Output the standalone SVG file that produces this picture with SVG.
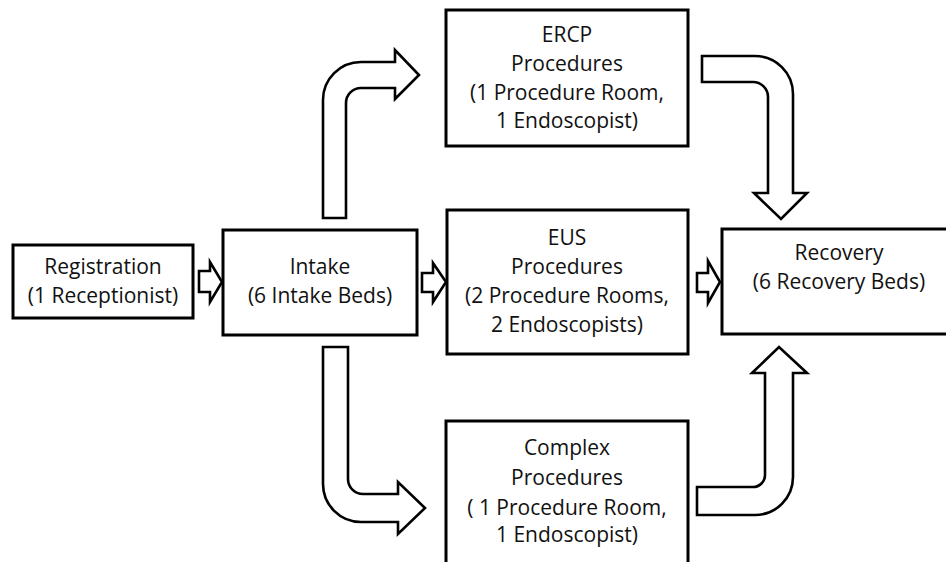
<svg xmlns="http://www.w3.org/2000/svg" width="946" height="562" viewBox="0 0 946 562">
<style>
.box{fill:#fff;stroke:#000;stroke-width:3}
.arr{fill:#fff;stroke:#000;stroke-width:2.6;stroke-linejoin:miter}
text{font-family:"Open Sans",Lato,"Liberation Sans",sans-serif;font-size:21px;fill:#111;text-anchor:middle}
</style>
<rect width="946" height="562" fill="#fff"/>
<g id="connectors">
<path class="arr" d="M323,218 L323,100 A38,38 0 0 1 361,62 L395,62 L395,50 L419,75 L395,99 L395,88 L361,88 A15,15 0 0 0 346,103 L346,218 Z"/>
<path class="arr" d="M323,347 L348,347 L348,479 A15,15 0 0 0 363,494 L398,494 L398,482 L425,508 L398,534 L398,522 L361,522 A38,38 0 0 1 323,484 Z"/>
<path class="arr" d="M702,56 L755,56 A38,38 0 0 1 793,94 L793,193 L807,193 L781,219 L754,193 L768,193 L768,97 A15,15 0 0 0 753,82 L702,82 Z"/>
<path class="arr" d="M697,487 L753,487 A12,12 0 0 0 765,475 L765,373 L752,373 L779,347 L807,373 L793,373 L793,477 A38,38 0 0 1 755,515 L697,515 Z"/>
<path class="arr" d="M199,271 L210,271 L210,262 L222,282 L210,302 L210,292 L199,292 Z"/>
<path class="arr" d="M422,273 L433,273 L433,263 L446,282 L433,302 L433,292 L422,292 Z"/>
<path class="arr" d="M697,273 L708,273 L708,261 L720,282 L708,303 L708,292 L697,292 Z"/>
</g>
<g id="registration">
<rect class="box" x="13" y="245" width="180" height="73"/>
<text x="103" y="274">Registration</text>
<text x="103" y="303">(1 Receptionist)</text>
</g>
<g id="intake">
<rect class="box" x="223" y="230" width="194" height="105"/>
<text x="320" y="274">Intake</text>
<text x="320" y="303">(6 Intake Beds)</text>
</g>
<g id="ercp">
<rect class="box" x="446" y="10" width="242" height="136"/>
<text x="567" y="42">ERCP</text>
<text x="567" y="71">Procedures</text>
<text x="567" y="100">(1 Procedure Room,</text>
<text x="567" y="128">1 Endoscopist)</text>
</g>
<g id="eus">
<rect class="box" x="447" y="210" width="241" height="144"/>
<text x="567" y="245">EUS</text>
<text x="567" y="274">Procedures</text>
<text x="567" y="303">(2 Procedure Rooms,</text>
<text x="567" y="332">2 Endoscopists)</text>
</g>
<g id="complex">
<rect class="box" x="446" y="421" width="242" height="160"/>
<text x="567" y="455">Complex</text>
<text x="567" y="485">Procedures</text>
<text x="567" y="515">( 1 Procedure Room,</text>
<text x="567" y="542">1 Endoscopist)</text>
</g>
<g id="recovery">
<rect class="box" x="722" y="229" width="240" height="105"/>
<text x="839" y="260">Recovery</text>
<text x="839" y="289">(6 Recovery Beds)</text>
</g>
</svg>
